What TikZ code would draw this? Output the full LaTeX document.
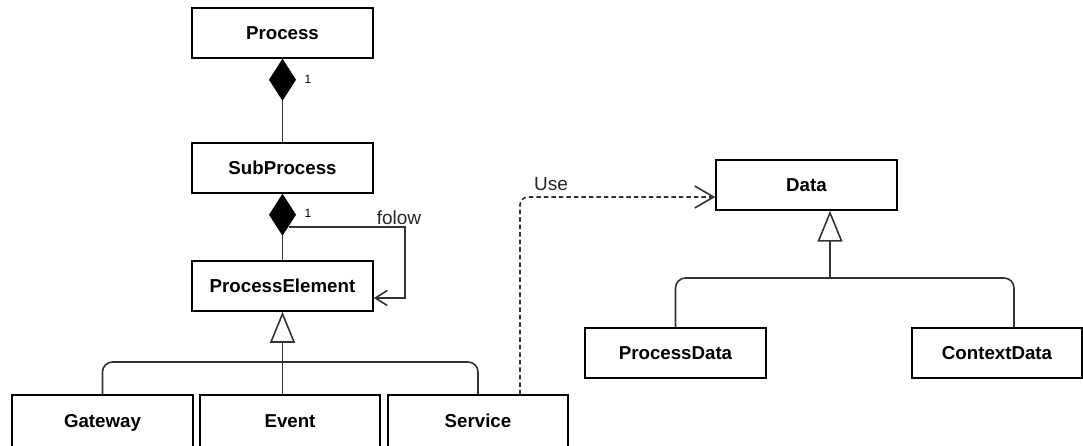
\documentclass[tikz,border=0pt]{standalone}
\usepackage{fontspec}
\setmainfont{Liberation Sans}
\usetikzlibrary{arrows.meta,calc}
\begin{document}
\begin{tikzpicture}[x=1pt,y=-1pt,
  cls/.style={draw=black, line width=1.5pt, fill=white, inner sep=0pt,
    minimum height=50pt, text height=13.4pt, text depth=0pt,
    font=\bfseries\fontsize{18.7}{22}\selectfont},
  ln/.style={draw=black!80, line width=1.6pt},
  comp/.style={ln, -{Diamond[length=42pt,width=27pt,color=black]}},
  gen/.style={ln, -{Triangle[open,length=31pt,width=25pt,fill=white]}},
  barb/.style={-{Straight Barb[length=12pt,width=15pt]}},
  mult/.style={font=\fontsize{12}{14}\selectfont, inner sep=0pt, anchor=base},
  lab/.style={font=\fontsize{19}{22}\selectfont, inner sep=0pt, text=black!85, anchor=base}]
\useasboundingbox (0,0) rectangle (1083,446);

\node[cls, minimum width=181pt] (proc) at (282.5,33) {Process};
\node[cls, minimum width=181pt] (sp) at (282.5,168) {SubProcess};
\node[cls, minimum width=181pt] (pe) at (282.5,286) {ProcessElement};
\node[cls, minimum width=181pt, minimum height=52pt] (gw) at (102.5,421) {Gateway};
\node[cls, minimum width=180pt, minimum height=52pt] (ev) at (290,421) {Event};
\node[cls, minimum width=180pt, minimum height=52pt] (sv) at (478,421) {Service};
\node[cls, minimum width=181pt] (data) at (806.5,185) {Data};
\node[cls, minimum width=181pt] (pd) at (675.5,353) {ProcessData};
\node[cls, minimum width=170pt] (cd) at (997,353) {ContextData};

% compositions
\draw[comp] (sp.north) -- (proc.south);
\node[mult] (m1) at (308,83.5) {1};
\draw[comp] (pe.north) -- (sp.south);
\node[mult] (m2) at (308,217.5) {1};

% folow self association
\coordinate (f0) at (289,227);
\coordinate (f1) at (405,227);
\coordinate (f2) at (405,298);
\draw[ln, barb] (f0) -- (f1) -- (f2) -- (pe.east |- f2);
\node[lab] (folow) at (399,225) {folow};

% generalization ProcessElement
\coordinate (busL) at (102.5,362);
\coordinate (busR) at (478,362);
\draw[gen] (pe.south |- ev.north) -- (pe.south);
\draw[ln, rounded corners=10pt] (gw.north) -- (busL) -- (busR) -- (sv.north);

% generalization Data
\coordinate (dtip) at ($(data.south)+(23.5,0)$);
\coordinate (dbus) at (dtip |- 0,278);
\coordinate (dbL) at (pd.north |- 0,278);
\coordinate (dbR) at (1014,278);
\draw[gen] (dbus) -- (dtip);
\draw[ln, rounded corners=10pt] (pd.north) -- (dbL) -- (dbR) -- (dbR |- cd.north);

% Use dependency
\coordinate (u0) at (sv.north -| 520,0);
\coordinate (u1) at (520,197);
\draw[ln, dash pattern=on 4.5pt off 3pt, rounded corners=8pt,
  -{Straight Barb[length=19pt,width=22pt]}] (u0) -- (u1) -- (data.west |- u1);
\node[lab] (use) at (551,190.5) {Use};
\end{tikzpicture}
\end{document}
